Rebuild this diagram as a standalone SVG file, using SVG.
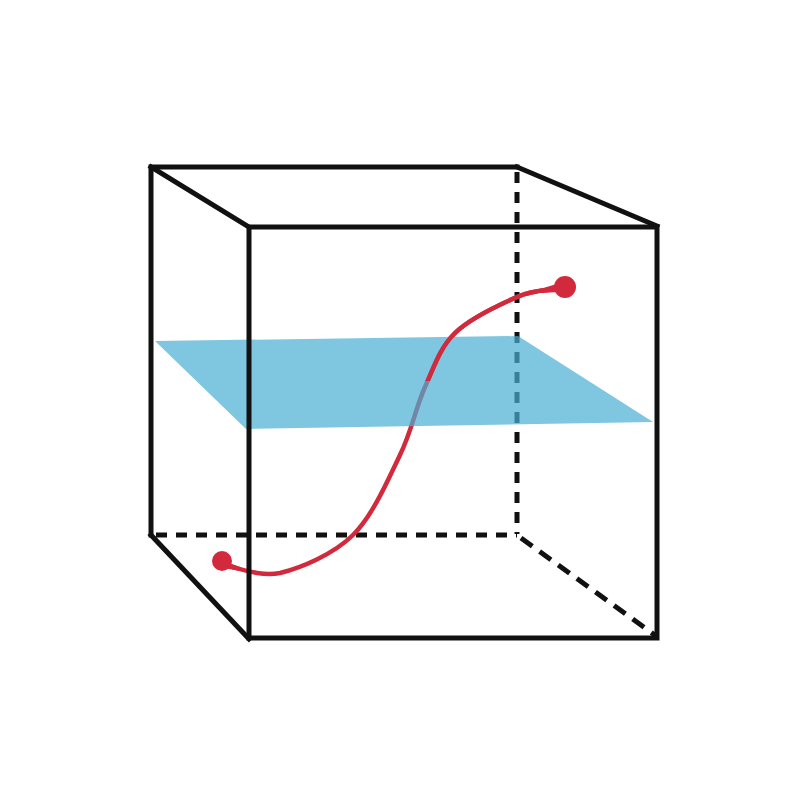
<svg xmlns="http://www.w3.org/2000/svg" width="800" height="800" viewBox="0 0 800 800">
  <style>
    .solid { stroke: #111; stroke-width: 5; stroke-linecap: square; fill: none; }
    .dash { stroke: #111; stroke-width: 5; fill: none; stroke-dasharray: 11 9; }
    .curve { stroke: #d22a3c; stroke-width: 4.5; fill: none; stroke-linecap: round; }
    .dot { fill: #d22a3c; }
    .plane { fill: #48aed3; fill-opacity: 0.7; }
  </style>
  <defs>
    <clipPath id="above"><rect x="0" y="0" width="800" height="381"/></clipPath>
  </defs>
  <rect width="800" height="800" fill="#fff"/>
  <g id="hidden-edges">
    <line class="dash" x1="517" y1="172" x2="517" y2="534"/>
    <line class="dash" x1="156" y1="535" x2="517" y2="535"/>
    <line class="dash" x1="521" y1="538" x2="656" y2="636" style="stroke-dasharray:14 9"/>
  </g>
  <g id="curve">
    <path class="curve" d="M228,566 C236.7,567.2 259,577 280,573 C300.8,567.8 333,554.7 353,535 C373,515.3 388,479.7 400,455 C412,430.3 415.8,407.3 425,387 C434.2,366.7 439.7,348 455,333 C470.3,318 500.3,304.3 517,297 C533.7,289.7 548.7,290.3 555,289"/>
    <path d="M224,561 L240,567 L240,571 L224,568 Z" class="dot"/>
    <path d="M540,289 L560,283 L560,292 L540,293 Z" class="dot"/>
    <circle class="dot" cx="222" cy="561" r="10"/>
    <circle class="dot" cx="565" cy="287" r="11"/>
  </g>
  <g id="plane">
    <polygon class="plane" points="155,341 518,336 653,422 246,429"/>
  </g>
  <g id="curve-above">
    <path class="curve" clip-path="url(#above)" d="M228,566 C236.7,567.2 259,577 280,573 C300.8,567.8 333,554.7 353,535 C373,515.3 388,479.7 400,455 C412,430.3 415.8,407.3 425,387 C434.2,366.7 439.7,348 455,333 C470.3,318 500.3,304.3 517,297 C533.7,289.7 548.7,290.3 555,289"/>
  </g>
  <g id="cube-edges">
    <polyline class="solid" points="151,535 151,167 517,167"/>
    <line class="solid" x1="151" y1="167" x2="249" y2="227"/>
    <line class="solid" x1="517" y1="167" x2="657" y2="226"/>
    <line class="solid" x1="151" y1="535" x2="249" y2="639"/>
    <rect class="solid" x="249" y="227" width="408" height="411"/>
  </g>
</svg>
